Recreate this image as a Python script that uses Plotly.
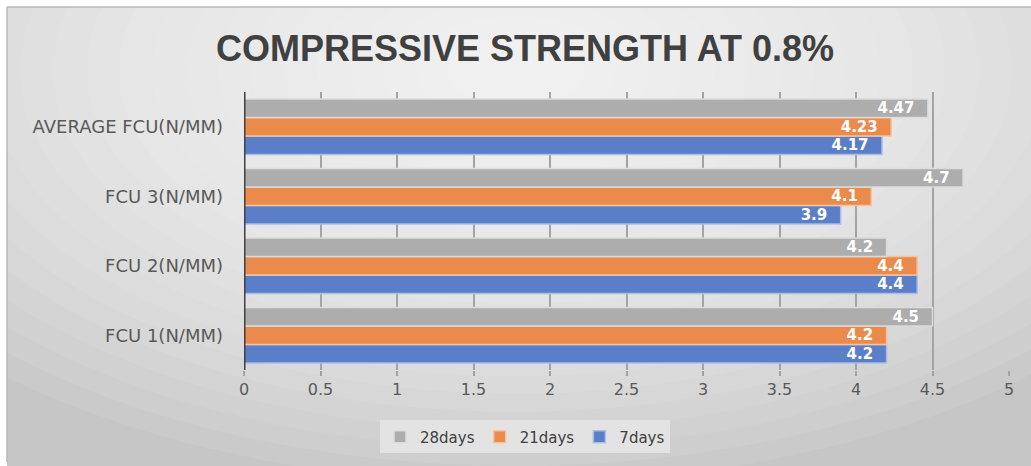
import plotly.graph_objects as go

categories = ["FCU 1(N/MM)", "FCU 2(N/MM)", "FCU 3(N/MM)", "AVERAGE FCU(N/MM)"]
days7 = [4.2, 4.4, 3.9, 4.17]
days21 = [4.2, 4.4, 4.1, 4.23]
days28 = [4.5, 4.2, 4.7, 4.47]
x_ticks = [0, 0.5, 1, 1.5, 2, 2.5, 3, 3.5, 4, 4.5, 5]

series = [
    ("7days", days7, "#5a7fc8", "#a9bde6"),
    ("21days", days21, "#eb8b4b", "#f6c3a0"),
    ("28days", days28, "#adadad", "#dcdcdc"),
]

# plot area in pixels
L, R, T, B = 244, 1009, 92, 373
W, H = R - L, B - T


def px_x(p):
    return (p - L) / W


def px_y(p):
    return (B - p) / H


fig = go.Figure()
for name, vals, col, edge in series:
    fig.add_trace(go.Bar(
        y=categories, x=vals, name=name, orientation="h",
        marker=dict(color=col, line=dict(color=edge, width=1.5)),
        text=[f"{v:g}\u00a0\u00a0" for v in vals], textposition="inside",
        insidetextanchor="end", textangle=0, constraintext="none",
        textfont=dict(color="white", size=15, family="DejaVu Sans, sans-serif", weight="bold"),
        cliponaxis=False,
    ))

shapes = [dict(type="rect", xref="paper", yref="paper", layer="below",
               x0=px_x(7), x1=px_x(1040), y0=px_y(480), y1=px_y(6),
               fillcolor="#c6c6c6", line=dict(width=0))]
n = 22
cx, cy = 516, 70
for i in range(n):
    rx = 760 - i * 33
    ry = rx * 0.55
    shapes.append(dict(type="circle", xref="paper", yref="paper", layer="below",
                       x0=px_x(cx - rx), x1=px_x(cx + rx), y0=px_y(cy + ry), y1=px_y(cy - ry),
                       fillcolor="white", opacity=0.075, line=dict(width=0)))
# clip gradient to the chart box: white strips on left/top
shapes.append(dict(type="rect", xref="paper", yref="paper", layer="below",
                   x0=px_x(-50), x1=px_x(6.5), y0=px_y(520), y1=px_y(-50),
                   fillcolor="white", line=dict(width=0)))
shapes.append(dict(type="rect", xref="paper", yref="paper", layer="below",
                   x0=px_x(-50), x1=px_x(1100), y0=px_y(5.5), y1=px_y(-50),
                   fillcolor="white", line=dict(width=0)))
shapes.append(dict(type="line", xref="paper", yref="paper", layer="below",
                   x0=px_x(7), x1=px_x(1031), y0=px_y(6), y1=px_y(6),
                   line=dict(color="#b8b8b8", width=1.5)))
shapes.append(dict(type="line", xref="paper", yref="paper", layer="below",
                   x0=px_x(7), x1=px_x(7), y0=px_y(466), y1=px_y(6),
                   line=dict(color="#b8b8b8", width=1.5)))
fig.update_layout(shapes=shapes)

fig.update_layout(
    width=1031, height=466,
    margin=dict(l=L, r=1031 - R, t=T, b=466 - B),
    paper_bgcolor="white",
    plot_bgcolor="rgba(0,0,0,0)",
    barmode="group", bargap=0.2, bargroupgap=0,
    title=dict(text="<b>COMPRESSIVE STRENGTH AT 0.8%</b>", x=525 / 1031, xanchor="center",
               y=1 - 48 / 466, yanchor="middle",
               font=dict(family="Liberation Sans, Arial, sans-serif", size=36, color="#404040")),
    xaxis=dict(range=[0, 5], tickvals=x_ticks, ticktext=[f"{v:g}" for v in x_ticks],
               showgrid=True, gridcolor="#a3a3a3", gridwidth=2,
               ticks="outside", ticklen=5, tickcolor="#a3a3a3", tickwidth=2,
               zeroline=False, showline=False,
               tickfont=dict(family="DejaVu Sans, sans-serif", size=16, color="#595959")),
    yaxis=dict(categoryorder="array", categoryarray=categories,
               showgrid=False, zeroline=False, showline=False, ticks="",
               ticklabelstandoff=20,
               tickfont=dict(family="DejaVu Sans, sans-serif", size=18, color="#595959")),
    legend=dict(orientation="h", traceorder="reversed", x=px_x(525), xanchor="center",
                y=px_y(424), yanchor="top", bgcolor="#e3e3e3",
                font=dict(family="DejaVu Sans, sans-serif", size=15, color="#404040"),
                itemwidth=30),
    showlegend=True,
)
fig.add_vline(x=0, line=dict(color="#404040", width=3))

fig.write_html("out.html")
